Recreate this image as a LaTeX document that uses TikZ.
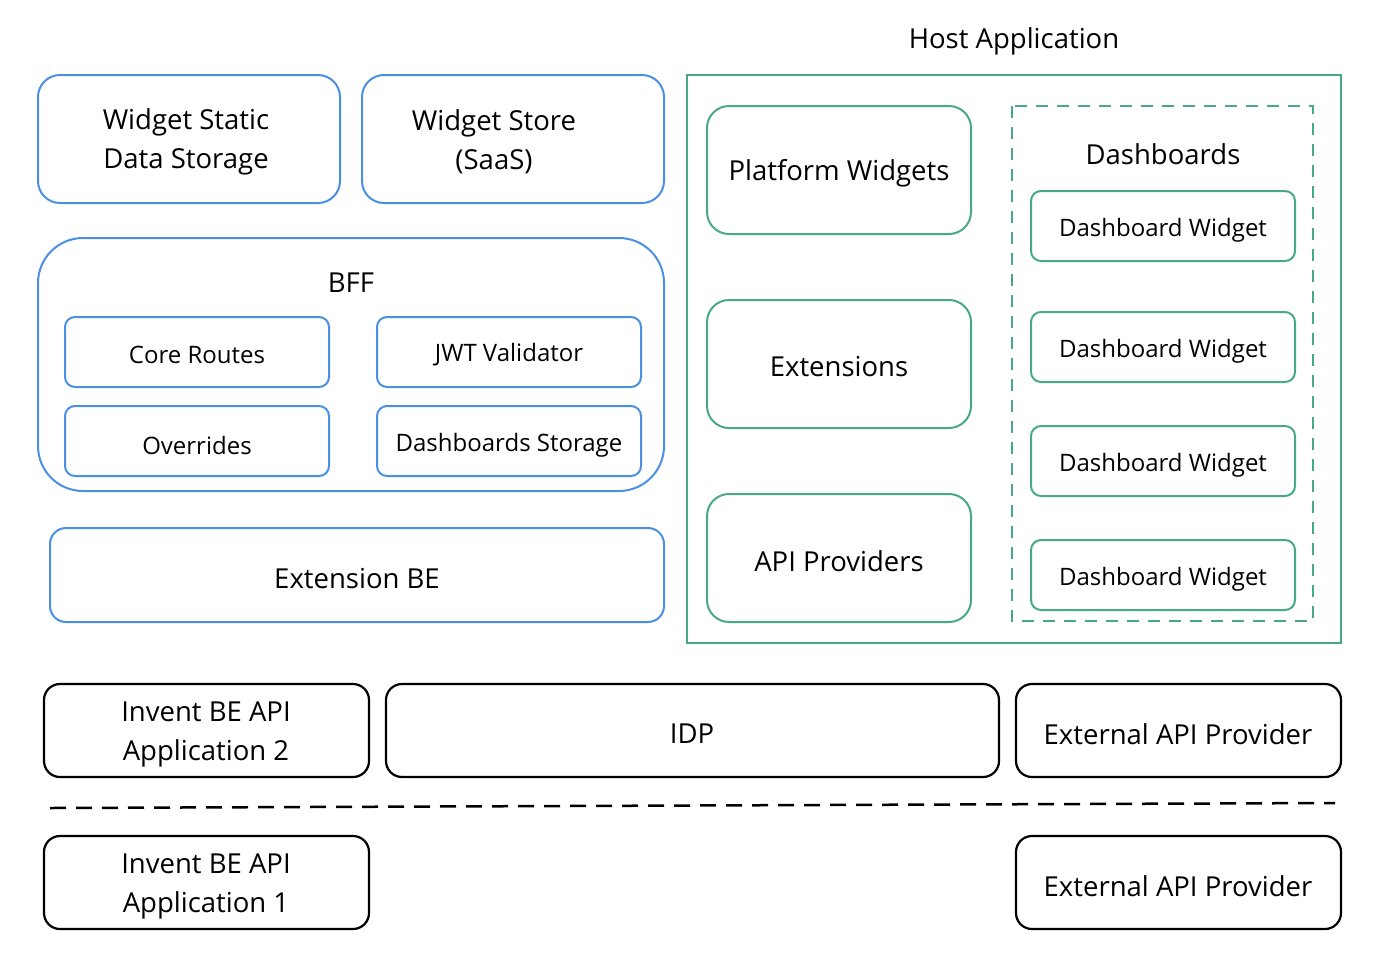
\documentclass[tikz,border=0pt]{standalone}
\usepackage{fontspec}
\setmainfont{Open Sans}
\definecolor{bl}{RGB}{74,144,226}
\definecolor{gr}{RGB}{72,168,138}
\begin{document}
\begin{tikzpicture}[x=1pt,y=-1pt,
 bb/.style={draw=bl,line width=2pt,rounded corners=22pt},
 sb/.style={draw=bl,line width=2pt,rounded corners=10pt},
 gb/.style={draw=gr,line width=2pt,rounded corners=22pt},
 gs/.style={draw=gr,line width=2pt,rounded corners=10pt},
 kb/.style={draw=black,line width=2.2pt,rounded corners=16pt},
 L/.style={font=\fontsize{27.5}{39}\selectfont,align=center,yshift=-3pt},
 S/.style={font=\fontsize{24}{30}\selectfont,align=center,yshift=-2pt}]
\useasboundingbox (0,0) rectangle (1376,962);
\draw[bb] (38,75) rectangle (340,203); \node[L] (wsd) at (186,139) {Widget Static\\Data Storage};
\draw[bb] (362,75) rectangle (664,203); \node[L] (ws) at (494,139) {Widget Store\\(SaaS)};
\draw[draw=bl,line width=2pt,rounded corners=45pt] (38,238) rectangle (664,491); \node[L] (bff) at (351,280) {BFF};
\draw[sb] (65,317) rectangle (329,387); \node[S] (cr) at (197,353) {Core Routes};
\draw[sb] (377,317) rectangle (641,387); \node[S] (jwt) at (509,353) {JWT Validator};
\draw[sb] (65,406) rectangle (329,476); \node[S] (ov) at (197,443) {Overrides};
\draw[sb] (377,406) rectangle (641,476); \node[S] (ds) at (509,443) {Dashboards Storage};
\draw[sb,rounded corners=16pt] (50,528) rectangle (664,622); \node[L] (ebe) at (357,576) {Extension BE};
\node[L] (ha) at (1014,38) {Host Application};
\draw[draw=gr,line width=2pt] (687,75) rectangle (1341,643);
\draw[gb] (707,106) rectangle (971,234); \node[L] (pw) at (839,170) {Platform Widgets};
\draw[gb] (707,300) rectangle (971,428); \node[L] (ex) at (839,364) {Extensions};
\draw[gb] (707,494) rectangle (971,622); \node[L] (ap) at (839,558) {API Providers};
\draw[draw=gr,line width=2.5pt,dash pattern=on 12pt off 9pt] (1012,106) rectangle (1313,621);
\node[L] (db) at (1163,151) {Dashboards};
\foreach \y/\n in {191/a,312/b,426/c,540/d}{
 \draw[gs] (1031,\y) rectangle (1295,\y+70);
 \node[S] (dw\n) at (1163,\y+37) {Dashboard Widget};}
\draw[kb] (44,684) rectangle (369,777); \node[L] (i2) at (206,731) {Invent BE API\\Application 2};
\draw[kb] (386,684) rectangle (999,777); \node[L] (idp) at (692,731) {IDP};
\draw[kb] (1016,684) rectangle (1341,777); \node[L] (e1) at (1178,731) {External API Provider};
\coordinate (l1) at (50,808); \coordinate (l2) at (1335,803);
\draw[line width=2.5pt,dash pattern=on 16pt off 10pt] (l1) -- (l2);
\draw[kb] (44,836) rectangle (369,929); \node[L] (i1) at (206,883) {Invent BE API\\Application 1};
\draw[kb] (1016,836) rectangle (1341,929); \node[L] (e2) at (1178,883) {External API Provider};
\end{tikzpicture}
\end{document}
